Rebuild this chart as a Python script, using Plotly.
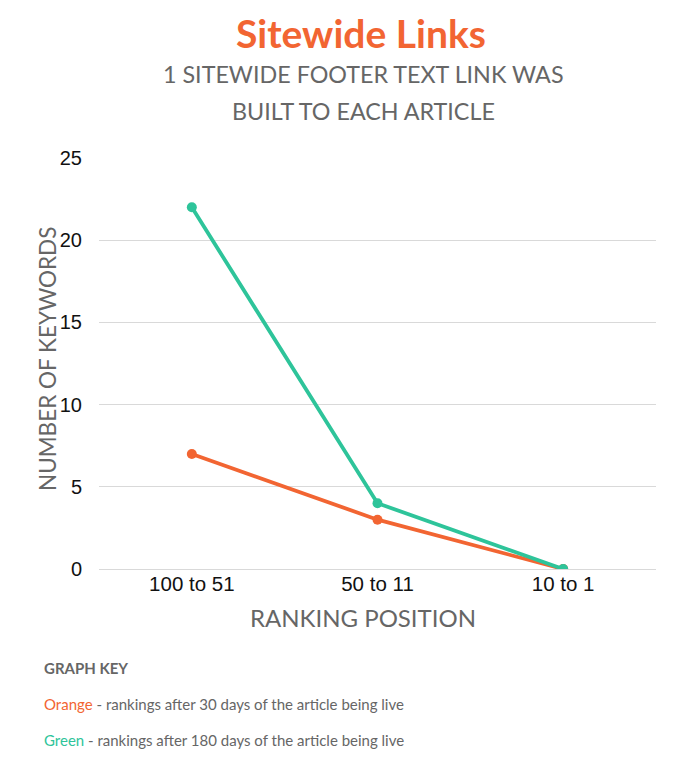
import plotly.graph_objects as go

categories = ["100 to 51", "50 to 11", "10 to 1"]
orange_30days = [7, 3, 0]
green_180days = [22, 4, 0]
y_ticks = [0, 5, 10, 15, 20, 25]

ORANGE = "#F26532"
GREEN = "#2EC49A"
GRAY = "#666666"

# page body has an 8px margin; compensate so the figure occupies the 700x761 window
OFF = 8
W, H = 700 - OFF, 761 - OFF
L, R, T, B = 99 - OFF, 44, 158 - OFF, 192

fig = go.Figure()
fig.add_trace(go.Scatter(x=categories, y=orange_30days, mode="lines+markers",
                         line=dict(color=ORANGE, width=3.8), marker=dict(size=10, color=ORANGE),
                         name="Orange", showlegend=False))
fig.add_trace(go.Scatter(x=categories, y=green_180days, mode="lines+markers",
                         line=dict(color=GREEN, width=3.8), marker=dict(size=10, color=GREEN),
                         name="Green", showlegend=False))

fig.update_layout(
    width=W, height=H,
    paper_bgcolor="white", plot_bgcolor="white",
    margin=dict(l=L, r=R, t=T, b=B),
    xaxis=dict(type="category", range=[-0.5, 2.5], showgrid=False, showline=False, zeroline=False,
               tickfont=dict(family="Liberation Sans, Arial", size=20.5, color="#111"),
               ticks="", ticklen=0),
    yaxis=dict(range=[0, 25], tickvals=y_ticks, showgrid=True, gridcolor="#D9D9D9", gridwidth=1,
               zeroline=True, zerolinecolor="#D9D9D9", zerolinewidth=1, showline=False,
               tickfont=dict(family="Liberation Sans, Arial", size=20, color="#111"),
               ticks="outside", ticklen=12, tickcolor="white"),
)


def pix(x, y, text, size, color, xanchor="center", family="Lato, Noto Sans", angle=0):
    # convert window pixel coords to paper coords
    x -= OFF
    y -= OFF
    pw = W - L - R
    ph = H - T - B
    xp = (x - L) / pw
    yp = (H - B - y) / ph
    fig.add_annotation(text=text, x=xp, y=yp, xref="paper", yref="paper", showarrow=False,
                       xanchor=xanchor, yanchor="middle", textangle=angle,
                       font=dict(family=family, size=size, color=color))


pix(361, 33, "<b>Sitewide Links</b>", 39, ORANGE)
pix(363, 74, "1 SITEWIDE FOOTER TEXT LINK WAS", 23.3, GRAY)
pix(363, 111, "BUILT TO EACH ARTICLE", 23.3, GRAY)
pix(363, 617, "RANKING POSITION", 24, GRAY)
pix(47, 359, "NUMBER OF KEYWORDS", 22.5, GRAY, angle=-90)
pix(42, 668, "<b>GRAPH KEY</b>", 15, GRAY, xanchor="left")
pix(42, 704, f"<span style='color:{ORANGE}'>Orange</span> - rankings after 30 days of the article being live", 15, GRAY, xanchor="left")
pix(42, 740, f"<span style='color:{GREEN}'>Green</span> - rankings after 180 days of the article being live", 15, GRAY, xanchor="left")

fig.write_html("out.html")
